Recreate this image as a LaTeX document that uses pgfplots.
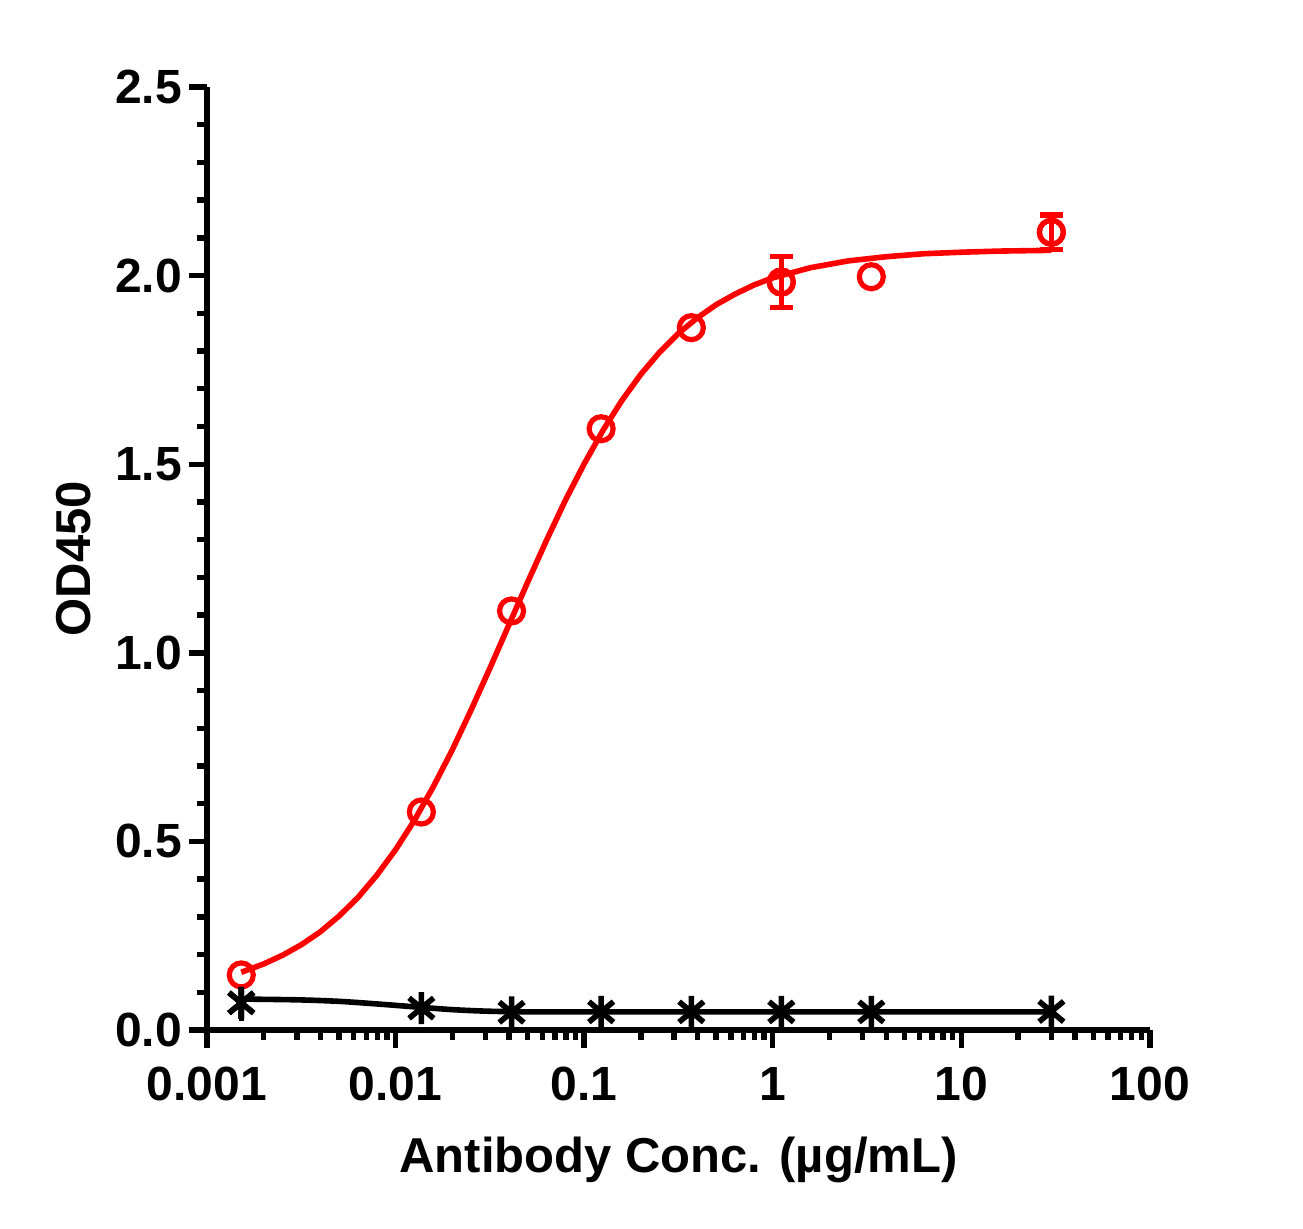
\documentclass[border=0pt]{standalone}
\usepackage{fontspec}
\setmainfont{Liberation Sans}
\usepackage{pgfplots}
\pgfplotsset{compat=1.18}
\usepackage{pgfplotstable}

\pgfdeclareplotmark{star6}{%
  \pgfpathmoveto{\pgfqpoint{0pt}{-\pgfplotmarksize}}%
  \pgfpathlineto{\pgfqpoint{0pt}{\pgfplotmarksize}}%
  \pgfpathmoveto{\pgfqpoint{-.77\pgfplotmarksize}{-.64\pgfplotmarksize}}%
  \pgfpathlineto{\pgfqpoint{.77\pgfplotmarksize}{.64\pgfplotmarksize}}%
  \pgfpathmoveto{\pgfqpoint{-.77\pgfplotmarksize}{.64\pgfplotmarksize}}%
  \pgfpathlineto{\pgfqpoint{.77\pgfplotmarksize}{-.64\pgfplotmarksize}}%
  \pgfusepathqstroke}

\pgfplotstableread{
x y
0.00152 0.146
0.0137 0.578
0.0412 1.111
0.123 1.594
0.370 1.862
1.11 1.983
3.33 1.997
30 2.115
}\redpts

\pgfplotstableread{
x y ey
1.11 1.983 0.068
30 2.115 0.046
}\rederr

\pgfplotstableread{
x y
0.00152 0.072
0.0137 0.058
0.0412 0.047
0.123 0.048
0.370 0.048
1.11 0.048
3.33 0.048
30 0.049
}\blackpts

\pgfplotstableread{
x y ey
0.00152 0.072 0.048
}\blackerr

\pgfplotstableread{
x y
0.00152 0.153
0.001995 0.175
0.002512 0.198
0.003162 0.226
0.003981 0.260
0.005012 0.302
0.00631 0.351
0.007943 0.410
0.01 0.478
0.01259 0.556
0.01585 0.645
0.01995 0.742
0.02512 0.848
0.03162 0.959
0.03981 1.073
0.05012 1.187
0.0631 1.298
0.07943 1.404
0.1 1.501
0.1259 1.590
0.1585 1.669
0.1995 1.738
0.2512 1.797
0.3162 1.847
0.3981 1.888
0.5012 1.923
0.631 1.951
0.7943 1.975
1.0 1.994
1.585 2.021
2.512 2.039
3.981 2.050
6.31 2.058
10 2.062
15.85 2.065
30 2.067
}\redcurve

\pgfplotstableread{
x y
0.00152 0.082
0.003 0.080
0.005 0.076
0.008 0.069
0.0137 0.060
0.02 0.054
0.03 0.050
0.05 0.048
0.1 0.048
1 0.048
30 0.048
}\blackcurve

\begin{document}
\begin{tikzpicture}
\useasboundingbox (-103.5pt,-99pt) rectangle (548pt,515pt);
\begin{axis}[
  at={(0,0)}, anchor=south west,
  scale only axis, width=471.5pt, height=471.5pt,
  xmode=log, xmin=0.001, xmax=100, ymin=0, ymax=2.5,
  axis lines*=left,
  axis line style={line width=2.7pt},
  xtick={0.001,0.01,0.1,1,10,100},
  xticklabels={0.001,0.01,0.1,1,10,100},
  minor xtick={0.002,0.003,0.004,0.005,0.006,0.007,0.008,0.009,
    0.02,0.03,0.04,0.05,0.06,0.07,0.08,0.09,
    0.2,0.3,0.4,0.5,0.6,0.7,0.8,0.9,
    2,3,4,5,6,7,8,9,20,30,40,50,60,70,80,90},
  ytick={0,0.5,1,1.5,2,2.5},
  minor y tick num=4,
  yticklabel style={/pgf/number format/.cd, fixed, fixed zerofill, precision=1},
  /pgf/number format/assume math mode=true,
  tick align=outside,
  major tick length=9pt, minor tick length=5pt,
  every tick/.style={black, line width=2.7pt},
  tick label style={font=\fontsize{24}{28}\selectfont\bfseries},
  xticklabel style={yshift=-6pt},
  xlabel={Antibody Conc. (µg/mL)},
  ylabel={OD450},
  label style={font=\fontsize{24.5}{29}\selectfont\bfseries},
  xlabel style={at={(axis description cs:0.5,-0.1506)}, anchor=base},
  ylabel style={at={(axis description cs:-0.124,0.5)}, anchor=base},
  clip=false,
]
\addplot[black, line width=2.8pt, smooth, tension=0.5] table {\blackcurve};
\addplot[red, line width=2.8pt] table {\redcurve};
\addplot[red, only marks, mark=o, mark size=6pt, mark options={line width=2.6pt}]
  table {\redpts};
\addplot[red, only marks, mark=o, mark size=6pt, mark options={line width=2.6pt},
  error bars/.cd, y dir=both, y explicit,
  error bar style={line width=2.7pt},
  error mark options={rotate=90, mark size=5.75pt, line width=2.7pt, red}]
  table[x=x, y=y, y error=ey] {\rederr};
\addplot[black, only marks, mark=star6, mark size=8pt, mark options={line width=2.8pt}]
  table {\blackpts};
\addplot[black, only marks, mark=star6, mark size=8pt, mark options={line width=2.8pt},
  error bars/.cd, y dir=both, y explicit,
  error bar style={line width=2.7pt},
  error mark=none]
  table[x=x, y=y, y error=ey] {\blackerr};
\end{axis}
\end{tikzpicture}
\end{document}
